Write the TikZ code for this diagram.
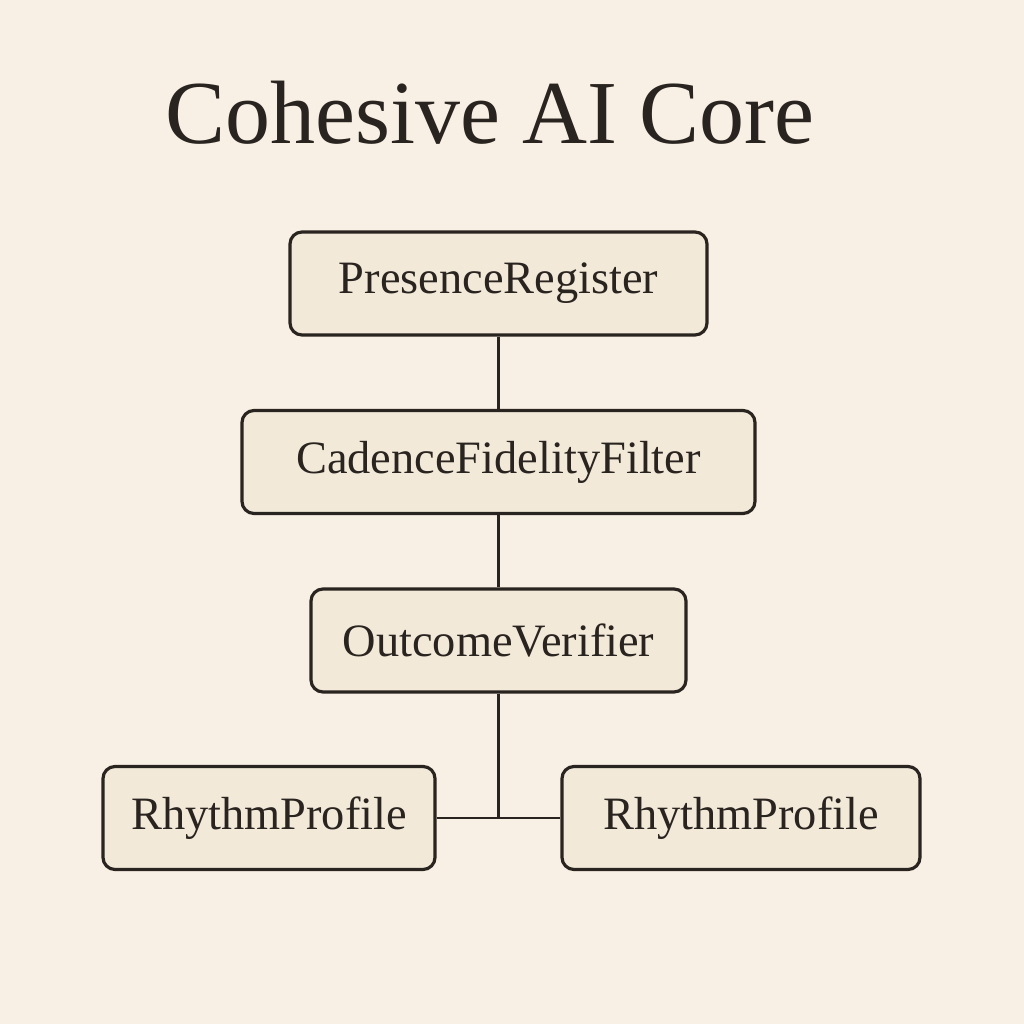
\documentclass[tikz,border=0pt]{standalone}
\usepackage{fontspec}
\setmainfont{Liberation Serif}
\usepackage{tikz}
\usetikzlibrary{positioning}

\definecolor{paper}{HTML}{F8F0E4}
\definecolor{boxfill}{HTML}{F2E9D8}
\definecolor{ink}{HTML}{2A2420}

\begin{document}
\begin{tikzpicture}[
    part/.style={draw=ink, fill=boxfill, line width=0.9pt, rounded corners=0.12cm,
      inner sep=0pt, minimum height=1.03cm, text=ink, font=\fontsize{13.2}{16}\selectfont},
    link/.style={draw=ink, line width=0.7pt}]
        \fill [paper] (0,0) rectangle (10.24,10.24);
        \useasboundingbox (0,0) rectangle (10.24,10.24);
        \node [text=ink, font=\fontsize{25.6}{30}\selectfont] (title) at (4.90,9.11) {Cohesive AI Core};
        \node [part, minimum width=4.17cm] (pr) at (4.985,7.405) {PresenceRegister};
        \node [part, minimum width=5.13cm] (cff) at (4.985,5.62) {CadenceFidelityFilter};
        \node [part, minimum width=3.75cm] (ov) at (4.985,3.835) {OutcomeVerifier};
        \node [part, minimum width=3.32cm] (rpl) at (2.69,2.06) {RhythmProfile};
        \node [part, minimum width=3.58cm] (rpr) at (7.41,2.06) {RhythmProfile};
        \coordinate (j) at (4.985,2.06);
        \draw [link] (pr) to (cff);
        \draw [link] (cff) to (ov);
        \draw [link] (ov) to (j);
        \draw [link] (rpl) to (j);
        \draw [link] (j) to (rpr);
      \end{tikzpicture}
\end{document}
